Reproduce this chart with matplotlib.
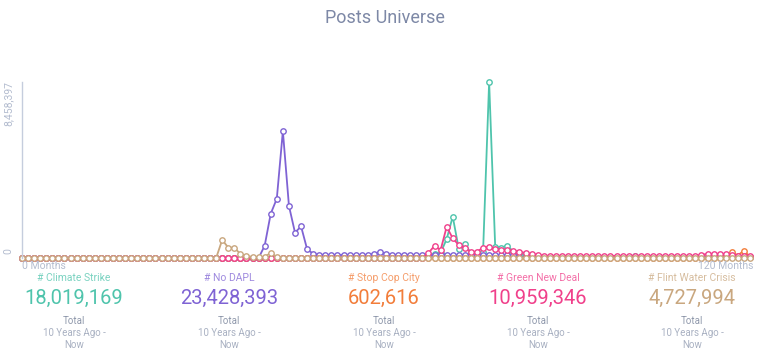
import matplotlib
matplotlib.use("Agg")
import matplotlib.pyplot as plt
import numpy as np

plt.rcParams['font.family'] = ['Roboto', 'DejaVu Sans']

# monthly posts, millions (0..120 months)
climate_strike = ([0] * 66
                  + [0.1, 0.15, 0.2, 0.25, 0.91, 1.99, 0.43, 0.67, 0.24, 0.24,
                     0.3, 8.458397, 0.54, 0.5, 0.6, 0.3, 0.2, 0.15]
                  + [0.03] * 17 + [0.12] + [0.03] * 19)
no_dapl = ([0] * 40
           + [0.59, 2.13, 2.85, 6.1, 2.51, 1.22, 1.52, 0.42, 0.2]
           + [0.15] * 9 + [0.2, 0.3, 0.2] + [0.15] * 21 + [0.05] * 39)
stop_cop_city = [0] * 116 + [0.05, 0.28, 0.12, 0.36, 0.05]
green_new_deal = ([0] * 67
                  + [0.24, 0.59, 0.38, 1.5, 0.95, 0.62, 0.47, 0.3, 0.3, 0.5,
                     0.54, 0.43, 0.38, 0.38, 0.34, 0.3, 0.24, 0.19, 0.15]
                  + [0.1] * 26
                  + [0.15, 0.2, 0.2, 0.2, 0.2, 0.15, 0.1, 0.1, 0.1])
flint_water = ([0] * 33
               + [0.87, 0.5, 0.5, 0.19, 0.1, 0.05, 0.05, 0.05, 0.25, 0.05]
               + [0.02] * 78)

names = ['# Climate Strike', '# No DAPL', '# Stop Cop City',
         '# Green New Deal', '# Flint Water Crisis']
totals = ['18,019,169', '23,428,393', '602,616', '10,959,346', '4,727,994']
colors = ['#4fc4ac', '#7f63d4', '#f27d3a', '#f0408b', '#c9a77f']
series = [climate_strike, no_dapl, stop_cop_city, green_new_deal, flint_water]
y_max = 8.458397

fig = plt.figure(figsize=(7.7, 3.57), dpi=100)
ax = fig.add_axes([22 / 770, 1 - 258 / 357, 728 / 770, 176 / 357])

months = np.arange(121)
for s, c in zip(series, colors):
    ax.plot(months, s, color=c, lw=1.3, marker='o', markersize=3.9,
            markerfacecolor='white', markeredgecolor=c, markeredgewidth=1.0,
            clip_on=False)

ax.set_xlim(0, 120)
ax.set_ylim(0, y_max)
for sp in ['top', 'right', 'bottom']:
    ax.spines[sp].set_visible(False)
ax.spines['left'].set_color('#c5cddd')
ax.spines['left'].set_linewidth(1.0)
ax.set_xticks([])
ax.set_yticks([])

lab_col = '#b3bccf'
ax.text(-0.012, 1.005, '8,458,397', transform=ax.transAxes, rotation=90,
        ha='right', va='top', fontsize=7.5, color=lab_col)
ax.text(-0.012, 0.02, '0', transform=ax.transAxes, rotation=90,
        ha='right', va='bottom', fontsize=7.5, color=lab_col)
fig.text(22 / 770, 1 - 266 / 357, '0 Months', ha='left', va='center',
         fontsize=7.5, color=lab_col)
fig.text(754 / 770, 1 - 266 / 357, '120 Months', ha='right', va='center',
         fontsize=7.5, color=lab_col)

fig.text(0.5, 1 - 18 / 357, 'Posts Universe', ha='center', va='center',
         fontsize=13, color='#7d88a6')

centers = [74, 229, 384, 538, 692]
for cx, n, t, c in zip(centers, names, totals, colors):
    x = cx / 770
    fig.text(x, 1 - 278 / 357, n, ha='center', va='center', fontsize=7.5,
             color=c, alpha=0.75)
    fig.text(x, 1 - 298.5 / 357, t, ha='center', va='center', fontsize=14.5,
             color=c)
    fig.text(x, 1 - 321 / 357, 'Total', ha='center', va='center',
             fontsize=7, color='#8f98ab')
    fig.text(x, 1 - 333 / 357, '10 Years Ago -', ha='center', va='center',
             fontsize=7, color='#a9b1c2')
    fig.text(x, 1 - 345 / 357, 'Now', ha='center', va='center',
             fontsize=7, color='#a9b1c2')

fig.savefig('out.png', dpi=100)
